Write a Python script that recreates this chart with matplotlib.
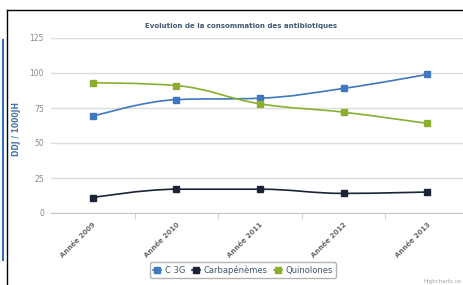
import matplotlib
matplotlib.use("Agg")
import matplotlib.pyplot as plt
from matplotlib.path import Path
from matplotlib.patches import PathPatch
from matplotlib.lines import Line2D

# data
years = ["Année 2009", "Année 2010", "Année 2011", "Année 2012", "Année 2013"]
c3g = [69, 81, 82, 89, 99]
carba = [11, 17, 17, 14, 15]
quino = [93, 91, 78, 72, 64]
series_names = ["C 3G", "Carbapénèmes", "Quinolones"]
colors = ["#3f78c0", "#1b2337", "#8aaf2f"]


def spline_path(xs, ys):
    # highcharts-like spline control points
    sm, den = 1.5, 2.5
    n = len(xs)
    left = [None] * n
    right = [None] * n
    for i in range(1, n - 1):
        x, y = xs[i], ys[i]
        lx = (sm * x + xs[i - 1]) / den
        ly = (sm * y + ys[i - 1]) / den
        rx = (sm * x + xs[i + 1]) / den
        ry = (sm * y + ys[i + 1]) / den
        corr = ((ry - ly) * (rx - x)) / (rx - lx) + y - ry
        ly += corr
        ry += corr
        if ly > ys[i - 1] and ly > y:
            ly = max(ys[i - 1], y)
            ry = 2 * y - ly
        elif ly < ys[i - 1] and ly < y:
            ly = min(ys[i - 1], y)
            ry = 2 * y - ly
        if ry > ys[i + 1] and ry > y:
            ry = max(ys[i + 1], y)
            ly = 2 * y - ry
        elif ry < ys[i + 1] and ry < y:
            ry = min(ys[i + 1], y)
            ly = 2 * y - ry
        left[i] = (lx, ly)
        right[i] = (rx, ry)
    verts = [(xs[0], ys[0])]
    codes = [Path.MOVETO]
    for i in range(1, n):
        c1 = right[i - 1] if right[i - 1] else (xs[i - 1], ys[i - 1])
        c2 = left[i] if left[i] else (xs[i], ys[i])
        verts += [c1, c2, (xs[i], ys[i])]
        codes += [Path.CURVE4] * 3
    return Path(verts, codes)


fig = plt.figure(figsize=(4.64, 2.85), dpi=100)
ax = fig.add_axes([51 / 464, (285 - 213) / 285, (469 - 51) / 464, (213 - 38) / 285])

x = list(range(len(years)))
for vals, name, col in zip([c3g, carba, quino], series_names, colors):
    ax.add_patch(PathPatch(spline_path(x, vals), fill=False, edgecolor=col, lw=1.2, zorder=3))
    ax.plot(x, vals, ls="none", marker="s", ms=4, color=col, zorder=4)

ax.set_xlim(-0.5, 4.5)
ax.set_ylim(0, 125)
ax.set_yticks([0, 25, 50, 75, 100, 125])
ax.yaxis.grid(True, color="#dcdcdc", lw=1)
ax.set_axisbelow(True)
for s in ["top", "right", "left"]:
    ax.spines[s].set_visible(False)
ax.spines["bottom"].set_color("#c8c8c8")
ax.tick_params(axis="y", length=0, labelsize=5.5, labelcolor="#8a8a8a", pad=5)
ax.set_xticks(x)
ax.set_xticklabels(years, rotation=45, ha="right", rotation_mode="anchor",
                   fontsize=5, color="#666666", fontweight="bold")
ax.set_xticks([0.5, 1.5, 2.5, 3.5], minor=True)
ax.tick_params(axis="x", which="major", length=0, pad=6)
ax.tick_params(axis="x", which="minor", length=4, color="#c8c8c8")
ax.set_ylabel("DDJ / 1000JH", fontsize=5.5, color="#4572a7", fontweight="bold")
ax.yaxis.set_label_coords((21 - 51) / (469 - 51), 0.48)

fig.text(241 / 464, 1 - 26 / 285, "Evolution de la consommation des antibiotiques",
         ha="center", va="center", fontsize=5, color="#3e576f", fontweight="bold")

handles = [Line2D([], [], color=c, marker="s", ms=4, lw=1.2) for c in colors]
leg = fig.legend(handles, series_names, loc="center", bbox_to_anchor=(243 / 464, 1 - 270 / 285),
                 ncol=3, fontsize=6, frameon=True, handlelength=1.0, handletextpad=0.4,
                 columnspacing=0.8, borderpad=0.35, fancybox=True)
leg.get_frame().set_edgecolor("#a0a0a0")
for t in leg.get_texts():
    t.set_color("#3e576f")

fig.text(462 / 464, 1 - 282 / 285, "Highcharts.co", ha="right", va="center", fontsize=4, color="#a0a0a0")

# screenshot frame bits
fig.add_artist(Line2D([7 / 464, 7 / 464], [0, 1 - 10 / 285], color="black", lw=1, transform=fig.transFigure))
fig.add_artist(Line2D([7 / 464, 1], [1 - 10 / 285, 1 - 10 / 285], color="black", lw=1, transform=fig.transFigure))
fig.add_artist(Line2D([2.5 / 464, 2.5 / 464], [1 - 40 / 285, 1 - 260 / 285], color="#2f6fc0", lw=1.5, transform=fig.transFigure))

fig.savefig("out.png", dpi=100)
